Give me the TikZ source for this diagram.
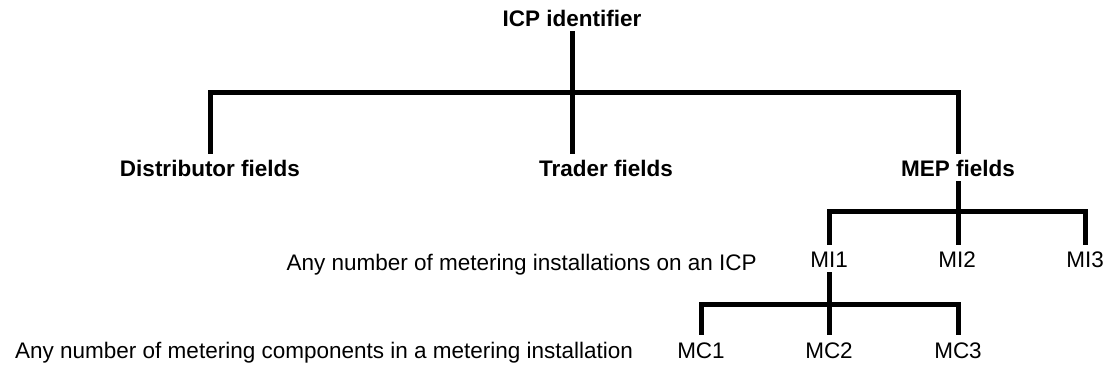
\documentclass[tikz,border=0pt]{standalone}
\usepackage{fontspec}
\setmainfont{Liberation Sans}
\usepackage{tikz}
\usetikzlibrary{positioning, calc}

\begin{document}
\begin{tikzpicture}[x=1pt, y=-1pt,
          fld/.style={anchor=base, inner xsep=2pt, inner ysep=4pt,
                      text height=19pt, text depth=0pt,
                      font=\fontsize{22.5}{27}\selectfont\bfseries},
          mi/.style={anchor=base, inner xsep=2pt, inner ysep=4pt,
                     text height=19pt, text depth=0pt,
                     font=\fontsize{22.5}{27}\selectfont},
          note/.style={inner sep=0pt, font=\fontsize{22.5}{27}\selectfont},
          bar/.style={line width=5pt, black, line join=miter}
        ]
        \useasboundingbox (0,0) rectangle (1105,371);

        % Top level
        \node[fld] (icp) at (572, 27) {ICP identifier};
        \node[fld] (dist) at (210, 177) {Distributor fields};
        \node[fld] (trader) at (606, 177) {Trader fields};
        \node[fld] (mep) at (958, 177) {MEP fields};
        \coordinate (jtop) at (572, 93);

        \draw[bar] (icp.south) -- (icp.south |- trader.north);
        \draw[bar] (dist.north) |- (jtop) -| (mep.north);

        % Metering installations
        \node[note, anchor=base east] (minote) at (757, 270)
              {Any number of metering installations on an ICP};
        \node[mi] (mi1) at (829, 268) {MI1};
        \node[mi] (mi2) at (957, 268) {MI2};
        \node[mi] (mi3) at (1085, 268) {MI3};
        \coordinate (jmi) at (957, 212);

        \draw[bar] (mep.south) -- (mep.south |- mi2.north);
        \draw[bar] (mi1.north) |- (jmi) -| (mi3.north);

        % Metering components
        \node[note, anchor=base west] (mcnote) at (15, 358)
              {Any number of metering components in a metering installation};
        \node[mi] (mc1) at (701, 358) {MC1};
        \node[mi] (mc2) at (829, 358) {MC2};
        \node[mi] (mc3) at (958, 358) {MC3};
        \coordinate (jmc) at (829, 304);

        \draw[bar] (mi1.south) -- (mi1.south |- mc2.north);
        \draw[bar] (mc1.north) |- (jmc) -| (mc3.north);
      \end{tikzpicture}
\end{document}
